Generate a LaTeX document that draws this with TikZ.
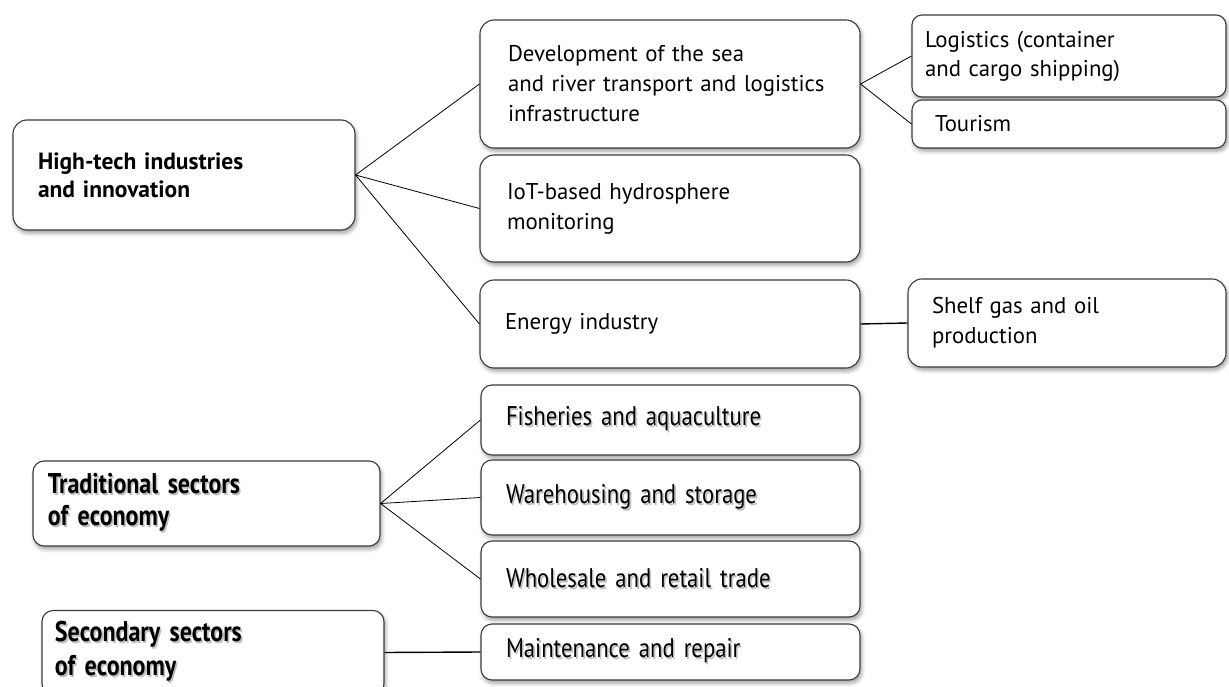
\documentclass[tikz,border=0pt]{standalone}
\usepackage{fontspec}
\setmainfont{PT Sans}
\newfontfamily\condfont[FakeStretch=0.84]{PT Sans}
\usetikzlibrary{shadows.blur}
\definecolor{edge}{HTML}{3C3C3C}
% a line of text with a soft grey copy behind it
\newcommand\shline[1]{\leavevmode\rlap{\hspace{1.6pt}\raisebox{-1.8pt}{\textcolor{black!25}{#1}}}#1}
\tikzset{
  box/.style={draw=edge, line width=1.1pt, fill=white, rounded corners=14pt,
    align=left, inner ysep=0pt, font=\fontsize{22.8}{30}\selectfont,
    blur shadow={shadow xshift=1.5pt, shadow yshift=-3pt,
      shadow blur radius=4pt, shadow opacity=40}},
  headbox/.style={box, font=\fontsize{23.5}{28}\selectfont\bfseries},
  lowbox/.style={box, rounded corners=11pt, font=\fontsize{27}{32}\condfont},
  lowhead/.style={box, rounded corners=11pt, font=\fontsize{28.5}{32}\condfont\bfseries},
  link/.style={draw=black, line width=0.8pt},
  bar/.style={draw=black, line width=1.4pt}
}
\begin{document}
\begin{tikzpicture}[x=1pt, y=-1pt]
\useasboundingbox (0,0) rectangle (1229,687);

% high-tech branch
\node[headbox, minimum width=342pt, minimum height=110pt, inner xsep=25pt, text width=292pt]
  (hi) at (184,175) {High-tech industries\\and innovation};
\node[box, minimum width=380pt, minimum height=128pt, inner xsep=28pt, text width=324pt]
  (dev) at (670,84) {Development of the sea\\and river transport and logistics\\infrastructure};
\node[box, minimum width=380pt, minimum height=107pt, inner xsep=27pt, text width=326pt]
  (iot) at (670,208.5) {IoT-based hydrosphere\\monitoring};
\node[box, minimum width=380pt, minimum height=88pt, inner xsep=25pt, text width=330pt]
  (energy) at (670,324) {Energy industry};
\node[box, rounded corners=10pt, minimum width=314pt, minimum height=82pt, inner xsep=13pt,
  text width=288pt, font=\fontsize{22.8}{29}\selectfont]
  (logi) at (1069,56) {Logistics (container\\and cargo shipping)};
\node[box, rounded corners=10pt, minimum width=314pt, minimum height=48pt, inner xsep=23pt, text width=268pt]
  (tour) at (1069,124) {Tourism};
\node[box, minimum width=318pt, minimum height=88pt, inner xsep=24pt, text width=270pt]
  (shelf) at (1067,323) {Shelf gas and oil\\production};

% traditional sectors
\node[lowhead, minimum width=347pt, minimum height=85pt, inner xsep=15pt, text width=317pt]
  (trad) at (206.5,503.5) {\shline{Traditional sectors}\\\shline{of economy}};
\node[lowbox, minimum width=379pt, minimum height=70pt, inner xsep=25pt, text width=329pt]
  (fish) at (670.5,420) {\shline{Fisheries and aquaculture}};
\node[lowbox, minimum width=379pt, minimum height=75pt, inner xsep=25pt, text width=329pt]
  (ware) at (670.5,497.5) {\shline{Warehousing and storage}};
\node[lowbox, minimum width=379pt, minimum height=76pt, inner xsep=25pt, text width=329pt]
  (whole) at (670.5,579) {\shline{Wholesale and retail trade}};

% secondary sectors, its box running past the lower edge
\node[lowhead, minimum width=342pt, minimum height=84pt, inner xsep=13pt, text width=316pt,
  font=\fontsize{28.5}{34}\condfont\bfseries]
  (sec) at (213,652.5) {\shline{Secondary sectors}\\\shline{of economy}};
\node[lowbox, minimum width=379pt, minimum height=56pt, inner xsep=25pt, text width=329pt]
  (maint) at (670.5,652) {\shline{Maintenance and repair}};

% connectors
\draw[link] (hi.east) -- (dev.west);
\draw[link] (hi.east) -- (iot.west);
\draw[link] (hi.east) -- (energy.west);
\draw[link] (dev.east) -- (logi.west);
\draw[link] (dev.east) -- (tour.west);
\draw[bar] (energy.east) -- (shelf.west);
\draw[link] (trad.east) -- (fish.west);
\draw[link] (trad.east) -- (ware.west);
\draw[link] (trad.east) -- (whole.west);
\draw[bar] (sec.east) -- (maint.west);
\end{tikzpicture}
\end{document}
